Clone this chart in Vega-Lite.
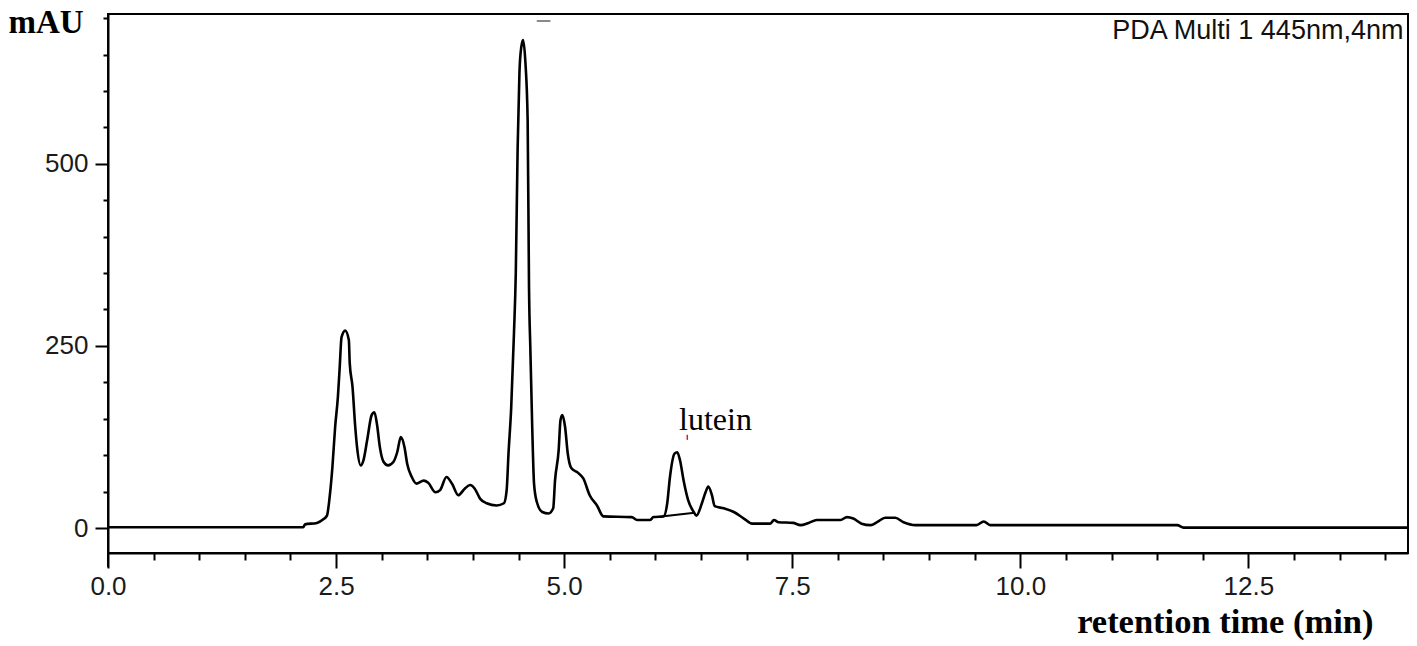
{
  "$schema": "https://vega.github.io/schema/vega-lite/v6.json",
  "autosize": {"type": "none"},
  "width": 1300,
  "height": 539,
  "padding": {"left": 108, "top": 14, "right": 9, "bottom": 93},
  "background": "white",
  "config": {
    "view": {"stroke": "black", "strokeWidth": 2},
    "axis": {"grid": false}
  },
  "resolve": {"axis": {"x": "independent", "y": "independent"}},
  "datasets": {
    "trace": [
      {"t": 0, "v": 1}, {"t": 2.0, "v": 1}, {"t": 2.14, "v": 1}, {"t": 2.16, "v": 5},
      {"t": 2.29, "v": 7}, {"t": 2.36, "v": 12}, {"t": 2.40, "v": 17}, {"t": 2.43, "v": 43},
      {"t": 2.46, "v": 84}, {"t": 2.49, "v": 139}, {"t": 2.52, "v": 180}, {"t": 2.54, "v": 221},
      {"t": 2.56, "v": 262}, {"t": 2.60, "v": 271}, {"t": 2.64, "v": 258}, {"t": 2.65, "v": 226},
      {"t": 2.68, "v": 194}, {"t": 2.71, "v": 139}, {"t": 2.73, "v": 111}, {"t": 2.77, "v": 86},
      {"t": 2.80, "v": 93}, {"t": 2.84, "v": 120}, {"t": 2.89, "v": 155}, {"t": 2.92, "v": 159},
      {"t": 2.95, "v": 141}, {"t": 2.98, "v": 111}, {"t": 3.02, "v": 91}, {"t": 3.07, "v": 86},
      {"t": 3.13, "v": 91}, {"t": 3.17, "v": 104}, {"t": 3.21, "v": 125}, {"t": 3.25, "v": 111},
      {"t": 3.28, "v": 88}, {"t": 3.33, "v": 70}, {"t": 3.38, "v": 61}, {"t": 3.46, "v": 65},
      {"t": 3.51, "v": 62}, {"t": 3.59, "v": 49}, {"t": 3.64, "v": 52}, {"t": 3.71, "v": 70},
      {"t": 3.77, "v": 61}, {"t": 3.84, "v": 45}, {"t": 3.91, "v": 54}, {"t": 3.97, "v": 59},
      {"t": 4.02, "v": 54}, {"t": 4.08, "v": 40}, {"t": 4.15, "v": 34}, {"t": 4.26, "v": 31},
      {"t": 4.34, "v": 34}, {"t": 4.37, "v": 52}, {"t": 4.39, "v": 102}, {"t": 4.42, "v": 166},
      {"t": 4.45, "v": 267}, {"t": 4.47, "v": 350}, {"t": 4.49, "v": 520}, {"t": 4.51, "v": 625},
      {"t": 4.53, "v": 660}, {"t": 4.55, "v": 670}, {"t": 4.575, "v": 640}, {"t": 4.60, "v": 560},
      {"t": 4.615, "v": 330}, {"t": 4.63, "v": 244}, {"t": 4.65, "v": 139},
      {"t": 4.67, "v": 61}, {"t": 4.70, "v": 36}, {"t": 4.76, "v": 22}, {"t": 4.83, "v": 20},
      {"t": 4.88, "v": 27}, {"t": 4.90, "v": 65}, {"t": 4.94, "v": 107}, {"t": 4.96, "v": 148},
      {"t": 4.98, "v": 155}, {"t": 5.01, "v": 139}, {"t": 5.04, "v": 102}, {"t": 5.08, "v": 82},
      {"t": 5.15, "v": 76}, {"t": 5.21, "v": 68}, {"t": 5.28, "v": 45}, {"t": 5.36, "v": 31},
      {"t": 5.43, "v": 16}, {"t": 5.74, "v": 15}, {"t": 5.80, "v": 11}, {"t": 5.94, "v": 11},
      {"t": 5.98, "v": 15}, {"t": 6.09, "v": 16}, {"t": 6.13, "v": 34}, {"t": 6.16, "v": 70},
      {"t": 6.21, "v": 102}, {"t": 6.24, "v": 104}, {"t": 6.27, "v": 93}, {"t": 6.31, "v": 65},
      {"t": 6.36, "v": 38}, {"t": 6.42, "v": 22}, {"t": 6.45, "v": 17}, {"t": 6.51, "v": 34},
      {"t": 6.55, "v": 49}, {"t": 6.58, "v": 57}, {"t": 6.62, "v": 45}, {"t": 6.65, "v": 30},
      {"t": 6.75, "v": 27}, {"t": 6.86, "v": 22}, {"t": 6.97, "v": 13}, {"t": 7.06, "v": 6},
      {"t": 7.26, "v": 6}, {"t": 7.30, "v": 11}, {"t": 7.35, "v": 8}, {"t": 7.51, "v": 7},
      {"t": 7.59, "v": 4}, {"t": 7.68, "v": 7}, {"t": 7.77, "v": 11}, {"t": 8.03, "v": 11},
      {"t": 8.10, "v": 15}, {"t": 8.17, "v": 13}, {"t": 8.26, "v": 6}, {"t": 8.36, "v": 4},
      {"t": 8.43, "v": 8}, {"t": 8.52, "v": 14}, {"t": 8.63, "v": 14}, {"t": 8.72, "v": 8},
      {"t": 8.85, "v": 4}, {"t": 9.52, "v": 4}, {"t": 9.60, "v": 9}, {"t": 9.67, "v": 4},
      {"t": 11.72, "v": 4}, {"t": 11.79, "v": 0.5}, {"t": 14.25, "v": 0.5}
    ],
    "baseline": [
      {"t": 6.09, "v": 16}, {"t": 6.43, "v": 21}
    ],
    "redtick": [
      {"t": 6.35, "v": 121, "v2": 128}
    ],
    "dash": [
      {"t": 4.70, "t2": 4.85, "v": 696}
    ],
    "axisext": [
      {"t": 0, "v": -34.3, "v2": -54}
    ],
    "labels": [
      {"t": 6.26, "v": 134, "label": "lutein", "kind": "peak"},
      {"t": 14.2, "v": 671, "label": "PDA Multi 1 445nm,4nm", "kind": "detector"}
    ]
  },
  "layer": [
    {
      "data": {"name": "trace"},
      "mark": {"type": "line", "color": "black", "strokeWidth": 2.6, "clip": true, "interpolate": "monotone"},
      "encoding": {
        "x": {
          "field": "t", "type": "quantitative",
          "scale": {"domain": [0, 14.25], "nice": false, "zero": false},
          "axis": {
            "orient": "bottom",
            "values": [0, 2.5, 5, 7.5, 10, 12.5],
            "format": ".1f",
            "tickSize": 15,
            "tickWidth": 2, "tickColor": "black",
            "domainColor": "black", "domainWidth": 2,
            "labelFont": "Liberation Sans", "labelFontSize": 26, "labelColor": "#1a1a1a",
            "labelPadding": 5, "labelFlush": false, "labelOverlap": false,
            "title": "retention time (min)",
            "titleFont": "Liberation Serif", "titleFontWeight": "bold", "titleFontSize": 34.5,
            "titleColor": "black", "titleAlign": "right", "titleBaseline": "alphabetic",
            "titleX": 1265, "titleY": 79
          }
        },
        "y": {
          "field": "v", "type": "quantitative",
          "scale": {"domain": [-34.3, 705.6], "nice": false, "zero": false},
          "axis": {
            "orient": "left",
            "values": [0, 250, 500],
            "format": "d",
            "tickSize": 13,
            "tickWidth": 2, "tickColor": "black",
            "domainColor": "black", "domainWidth": 2,
            "labelFont": "Liberation Sans", "labelFontSize": 26, "labelColor": "#1a1a1a",
            "labelPadding": 7, "labelFlush": false, "labelOverlap": false,
            "title": "mAU",
            "titleAngle": 0,
            "titleFont": "Liberation Serif", "titleFontWeight": "bold", "titleFontSize": 33,
            "titleColor": "black", "titleAlign": "left", "titleBaseline": "alphabetic",
            "titleX": -100, "titleY": 18
          }
        }
      }
    },
    {
      "data": {"name": "baseline"},
      "mark": {"type": "line", "color": "black", "strokeWidth": 2},
      "encoding": {
        "x": {
          "field": "t", "type": "quantitative",
          "axis": {
            "orient": "bottom",
            "values": [0.5, 1, 1.5, 2, 3, 3.5, 4, 4.5, 5.5, 6, 6.5, 7, 8, 8.5, 9, 9.5, 10.5, 11, 11.5, 12, 13, 13.5, 14],
            "labels": false, "domain": false, "title": null,
            "tickSize": 7, "tickWidth": 2, "tickColor": "black"
          }
        },
        "y": {
          "field": "v", "type": "quantitative",
          "axis": {
            "orient": "left",
            "values": [50, 100, 150, 200, 300, 350, 400, 450, 550, 600, 650, 700],
            "labels": false, "domain": false, "title": null,
            "tickSize": 5, "tickWidth": 2, "tickColor": "black"
          }
        }
      }
    },
    {
      "data": {"name": "axisext"},
      "mark": {"type": "rule", "color": "black", "strokeWidth": 2, "clip": false},
      "encoding": {
        "x": {"field": "t", "type": "quantitative", "axis": null},
        "y": {"field": "v", "type": "quantitative", "axis": null},
        "y2": {"field": "v2"}
      }
    },
    {
      "data": {"name": "redtick"},
      "mark": {"type": "rule", "color": "#d62020", "strokeWidth": 1.5},
      "encoding": {
        "x": {"field": "t", "type": "quantitative", "axis": null},
        "y": {"field": "v", "type": "quantitative", "axis": null},
        "y2": {"field": "v2"}
      }
    },
    {
      "data": {"name": "dash"},
      "mark": {"type": "rule", "color": "#8a8a8a", "strokeWidth": 2},
      "encoding": {
        "x": {"field": "t", "type": "quantitative", "axis": null},
        "x2": {"field": "t2"},
        "y": {"field": "v", "type": "quantitative", "axis": null}
      }
    },
    {
      "data": {"name": "labels"},
      "transform": [{"filter": "datum.kind === 'peak'"}],
      "mark": {"type": "text", "align": "left", "baseline": "alphabetic", "font": "Liberation Serif", "fontSize": 32, "color": "black"},
      "encoding": {
        "x": {"field": "t", "type": "quantitative", "axis": null},
        "y": {"field": "v", "type": "quantitative", "axis": null},
        "text": {"field": "label"}
      }
    },
    {
      "data": {"name": "labels"},
      "transform": [{"filter": "datum.kind === 'detector'"}],
      "mark": {"type": "text", "align": "right", "baseline": "alphabetic", "font": "Liberation Sans", "fontSize": 27, "color": "#111"},
      "encoding": {
        "x": {"field": "t", "type": "quantitative", "axis": null},
        "y": {"field": "v", "type": "quantitative", "axis": null},
        "text": {"field": "label"}
      }
    }
  ]
}
